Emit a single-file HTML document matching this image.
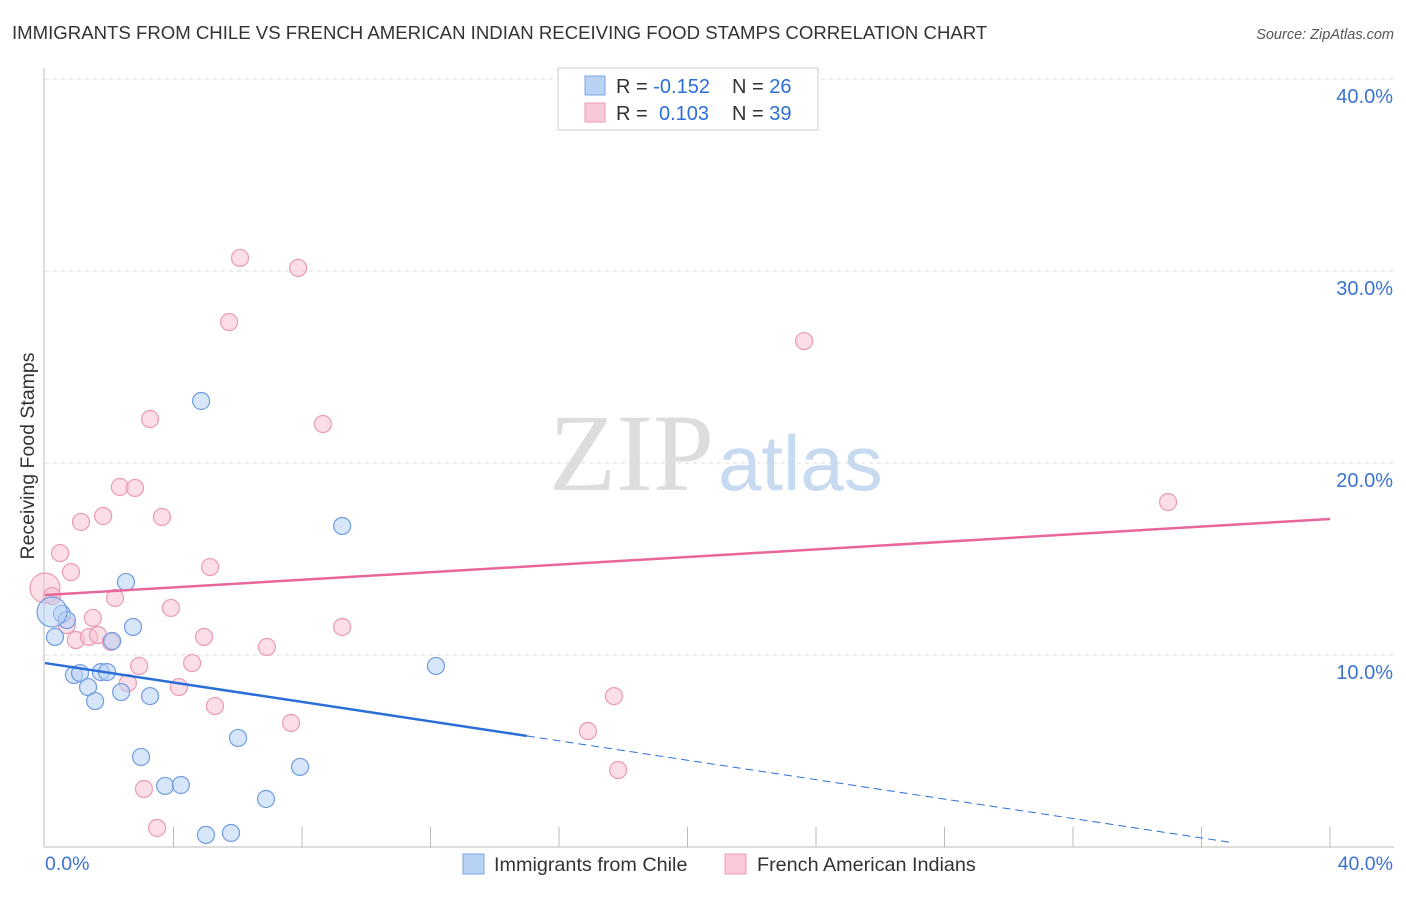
<!DOCTYPE html>
<html><head><meta charset="utf-8"><style>
body{margin:0;background:#fff;font-family:"Liberation Sans",sans-serif;}
</style></head><body>
<svg width="1406" height="892" viewBox="0 0 1406 892" xmlns="http://www.w3.org/2000/svg" font-family="Liberation Sans, sans-serif">
<text x="12" y="39" font-size="18.6" fill="#333">IMMIGRANTS FROM CHILE VS FRENCH AMERICAN INDIAN RECEIVING FOOD STAMPS CORRELATION CHART</text>
<text x="1394" y="39" font-size="14.5" fill="#555" font-style="italic" text-anchor="end">Source: ZipAtlas.com</text>
<g id="grid"></g>
<text x="714" y="490" font-size="110" fill="#ddd" text-anchor="end" font-family="Liberation Serif, serif">ZIP</text>
<text x="718" y="490" font-size="78" fill="#c8daf0">atlas</text>
<g id="marks"></g>
<text x="34" y="456" font-size="19.5" fill="#333" text-anchor="middle" transform="rotate(-90 34 456)">Receiving Food Stamps</text>
<g>
<rect x="558" y="68" width="260" height="62" fill="#fff" stroke="#ccc"/>
<rect x="585" y="76" width="20" height="19" fill="#b8d2f4" stroke="#7aa6e0"/>
<rect x="585" y="103" width="20" height="19" fill="#fac8d6" stroke="#ec9ab3"/>
<text x="616" y="93" font-size="20" fill="#333">R = <tspan fill="#2d6fd8">-0.152</tspan><tspan x="732">N = </tspan><tspan fill="#2d6fd8">26</tspan></text>
<text x="616" y="120" font-size="20" fill="#333">R = <tspan x="659" fill="#2d6fd8">0.103</tspan><tspan x="732">N = </tspan><tspan fill="#2d6fd8">39</tspan></text>
</g>
<g>
<rect x="463" y="854" width="21" height="20" fill="#b8d2f4" stroke="#7aa6e0"/>
<text x="494" y="871" font-size="19.8" fill="#333">Immigrants from Chile</text>
<rect x="725" y="854" width="21" height="20" fill="#fac8d6" stroke="#ec9ab3"/>
<text x="757" y="871" font-size="19.8" fill="#333">French American Indians</text>
</g>
</svg>
<script>
const blueX=[2.52,0.53,0.68,0.31,2.74,2.09,0.90,1.09,1.74,1.93,1.34,2.37,3.27,1.56,4.86,9.25,12.17,2.99,6.01,7.94,3.74,4.23,6.88,5.01,5.79,0.22];
const blueY=[13.8,12.14,11.82,10.94,11.46,10.73,8.96,9.06,9.11,9.11,8.33,8.07,7.86,7.6,23.23,16.72,9.43,4.69,5.68,4.17,3.18,3.23,2.5,0.63,0.73,12.24];
const blueBig=[25];
const pinkX=[0,0.22,0.47,0.81,1.12,1.81,2.33,2.80,3.64,3.27,5.73,6.07,7.88,8.65,23.63,34.96,5.14,2.18,3.92,1.49,0.68,0.96,1.37,1.65,2.05,4.95,6.91,9.25,2.93,4.58,2.58,4.17,5.29,7.66,17.71,16.9,17.84,3.08,3.49];
const pinkY=[13.49,13.07,15.31,14.32,16.93,17.24,18.75,18.7,17.19,22.29,27.34,30.68,30.16,22.03,26.35,17.97,14.58,12.97,12.45,11.93,11.56,10.78,10.94,11.04,10.68,10.94,10.42,11.46,9.43,9.58,8.54,8.33,7.34,6.46,7.86,6.04,4.01,3.02,0.99];
const pinkBig=[0];
const yTicks=[10,20,30,40];
const xTickLabels=["0.0%","40.0%"];
const blueTrend=[9.58,-0.253];
const pinkTrend=[13.125,0.099];
const X=v=>45+v*32.125, Y=v=>847-v*19.2;
const NS="http://www.w3.org/2000/svg";
function mk(parent,tag,attrs){const e=document.createElementNS(NS,tag);for(const k in attrs)e.setAttribute(k,attrs[k]);parent.appendChild(e);return e;}
const g=document.getElementById('grid'), m=document.getElementById('marks');
let ax=mk(g,'line',{x1:44,y1:68,x2:44,y2:847,stroke:'#bbb'});


let bx=mk(g,'line',{x1:44,y1:847,x2:1394,y2:847,stroke:'#bbb'});


yTicks.forEach(t=>{
 let l=mk(g,'line',{x1:45,x2:1394,y1:Y(t),y2:Y(t),stroke:'#ddd','stroke-dasharray':'4 4'});
 
 
 let tx=mk(g,'text',{x:1393,y:Y(t)+24,'font-size':20,fill:'#3a74d0','text-anchor':'end'});tx.textContent=t.toFixed(1)+'%';
 
 
});
for(let i=1;i<=10;i++){let l=mk(g,'line',{x1:X(i*4),x2:X(i*4),y1:827,y2:847,stroke:'#bbb'});
 
 }
let t0=mk(g,'text',{x:45,y:870,'font-size':19.5,fill:'#3a74d0'});t0.textContent=xTickLabels[0];


let t1=mk(g,'text',{x:1393,y:870,'font-size':19.5,fill:'#3a74d0','text-anchor':'end'});t1.textContent=xTickLabels[1];


function dots(xs,ys,big,fill,stroke,name){xs.forEach((x,i)=>{
 const r=big.includes(i)?15:8.5;
 let c=mk(m,'circle',{cx:X(x),cy:Y(ys[i]),r:r,fill:fill,'fill-opacity':0.55,stroke:stroke,'stroke-width':1.2});
 
 
});}
dots(pinkX,pinkY,pinkBig,'#f8c3d2','#ec9ab3','point-french');
dots(blueX,blueY,blueBig,'#b8d2f4','#6f9de0','point-chile');
const bEnd=15;
let bl=mk(m,'line',{x1:X(0),y1:Y(blueTrend[0]),x2:X(bEnd),y2:Y(blueTrend[0]+blueTrend[1]*bEnd),stroke:'#2a6fd8','stroke-width':2.5});


let bd=mk(m,'line',{x1:X(bEnd),y1:Y(blueTrend[0]+blueTrend[1]*bEnd),x2:X(37),y2:Y(blueTrend[0]+blueTrend[1]*37),stroke:'#2a6fd8','stroke-width':1,'stroke-dasharray':'8 5'});


let pl=mk(m,'line',{x1:X(0),y1:Y(pinkTrend[0]),x2:X(40),y2:Y(pinkTrend[0]+pinkTrend[1]*40),stroke:'#e8679a','stroke-width':2.5});


</script>
</body></html>
